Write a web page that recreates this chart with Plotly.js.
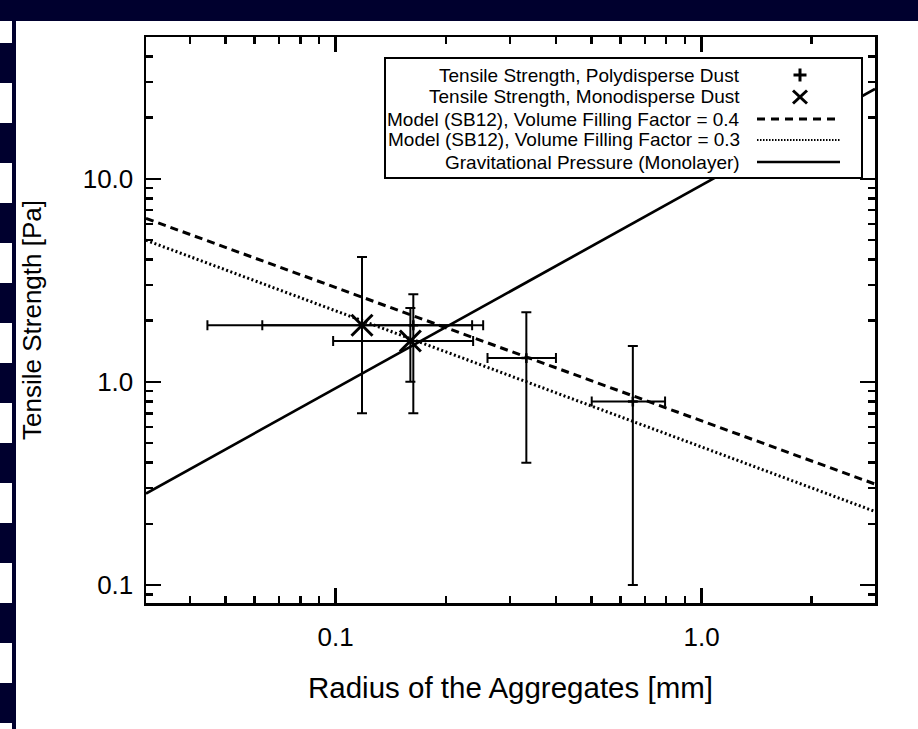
<!DOCTYPE html>
<html>
<head>
<meta charset="utf-8">
<script src="https://cdn.plot.ly/plotly-3.0.1.min.js"></script>
<style>
  html, body { margin: 0; padding: 0; background: #ffffff; }
  #wrap { position: relative; width: 918px; height: 729px; overflow: hidden; }
  #chart { position: absolute; left: 0; top: 0; width: 918px; height: 729px; }
  .navy { position: absolute; background: #00002e; }
</style>
</head>
<body>
<div id="wrap">
  <div id="chart"></div>
</div>
<script>
// ---------------- data ----------------
// Tensile strength, polydisperse dust (+)
const polyX       = [0.163, 0.332, 0.649];
const polyY       = [1.90, 1.31, 0.80];
const polyXplus   = [0.073, 0.068, 0.146];
const polyXminus  = [0.100, 0.072, 0.148];
const polyYplus   = [0.80, 0.89, 0.70];
const polyYminus  = [1.20, 0.91, 0.70];

// Tensile strength, monodisperse dust (x)
const monoX       = [0.118, 0.160];
const monoY       = [1.90, 1.59];
const monoXplus   = [0.135, 0.0775];
const monoXminus  = [0.0734, 0.0616];
const monoYplus   = [2.22, 0.72];
const monoYminus  = [1.20, 0.59];

// Model lines (end points read at the plot edges)
const modelX      = [0.0303, 2.98];
const model04Y    = [6.38, 0.314];
const model03Y    = [4.98, 0.230];
const gravY       = [0.282, 27.7];

// Axis ticks
const xTickVals   = [0.1, 1];
const xTickText   = ['0.1', '1.0'];
const xMinorVals  = [0.04, 0.05, 0.06, 0.07, 0.08, 0.09, 0.2, 0.3, 0.4, 0.5, 0.6, 0.7, 0.8, 0.9, 2];
const yTickVals   = [0.1, 1, 10];
const yTickText   = ['0.1', '1.0', '10.0'];
const yMinorVals  = [0.09, 0.2, 0.3, 0.4, 0.5, 0.6, 0.7, 0.8, 0.9, 2, 3, 4, 5, 6, 7, 8, 9, 20, 30, 40];

const legendLabels = [
  'Tensile Strength, Polydisperse Dust',
  'Tensile Strength, Monodisperse Dust',
  'Model (SB12), Volume Filling Factor = 0.4',
  'Model (SB12), Volume Filling Factor = 0.3',
  'Gravitational Pressure (Monolayer)'
];

// ---------------- decoration (navy frame of the slide) ----------------
(function () {
  const wrap = document.getElementById('wrap');
  function box(l, t, w, h) {
    const d = document.createElement('div');
    d.className = 'navy';
    d.style.left = l + 'px'; d.style.top = t + 'px';
    d.style.width = w + 'px'; d.style.height = h + 'px';
    wrap.appendChild(d);
  }
  box(0, 0, 918, 21);     // top band
  box(12, 0, 4, 729);     // left vertical rule
  for (let y = 43; y < 729; y += 80) box(0, y, 13, 40);
})();

// ---------------- plot ----------------
const FONT = 'Liberation Sans, Arial, Helvetica, sans-serif';
const L = 146, R = 875, T = 37, B = 603;
const px2x = p => (p - L) / (R - L);
const px2y = p => (B - p) / (B - T);

const errStyle = { color: '#000', thickness: 2, width: 5 };

const traces = [
  {
    x: modelX, y: model04Y, mode: 'lines', type: 'scatter', showlegend: false,
    line: { color: '#000', width: 3, dash: '8px,5px' }, hoverinfo: 'skip'
  },
  {
    x: modelX, y: model03Y, mode: 'lines', type: 'scatter', showlegend: false,
    line: { color: '#000', width: 3, dash: '2px,2.5px' }, hoverinfo: 'skip'
  },
  {
    x: modelX, y: gravY, mode: 'lines', type: 'scatter', showlegend: false,
    line: { color: '#000', width: 2.7 }, hoverinfo: 'skip'
  },
  {
    x: polyX, y: polyY, mode: 'markers', type: 'scatter', showlegend: false,
    marker: { symbol: 'cross-thin', size: 7, color: '#000', line: { color: '#000', width: 2.5 } },
    error_x: Object.assign({ type: 'data', symmetric: false, array: polyXplus, arrayminus: polyXminus }, errStyle),
    error_y: Object.assign({ type: 'data', symmetric: false, array: polyYplus, arrayminus: polyYminus }, errStyle)
  },
  {
    x: monoX, y: monoY, mode: 'markers', type: 'scatter', showlegend: false,
    marker: { symbol: 'x-thin', size: 21, color: '#000', line: { color: '#000', width: 3 } },
    error_x: Object.assign({ type: 'data', symmetric: false, array: monoXplus, arrayminus: monoXminus }, errStyle),
    error_y: Object.assign({ type: 'data', symmetric: false, array: monoYplus, arrayminus: monoYminus }, errStyle)
  }
];

// legend drawn by hand (text right aligned, symbol on the right)
const legBox = { l: 385, t: 58, r: 862, b: 178 };
const rowY = [75, 97, 119, 140, 162];
const textRight = 742;
const symL = 757, symR = 840, symC = 800;

const shapes = [
  { type: 'rect', xref: 'paper', yref: 'paper', layer: 'above',
    x0: px2x(legBox.l), x1: px2x(legBox.r), y0: px2y(legBox.b), y1: px2y(legBox.t),
    fillcolor: '#fff', line: { color: '#000', width: 2 } },
  // plus
  { type: 'line', xref: 'paper', yref: 'paper', layer: 'above',
    x0: px2x(symC - 6.5), x1: px2x(symC + 6.5), y0: px2y(rowY[0]), y1: px2y(rowY[0]), line: { color: '#000', width: 3 } },
  { type: 'line', xref: 'paper', yref: 'paper', layer: 'above',
    x0: px2x(symC), x1: px2x(symC), y0: px2y(rowY[0] - 6.5), y1: px2y(rowY[0] + 6.5), line: { color: '#000', width: 3 } },
  // cross
  { type: 'line', xref: 'paper', yref: 'paper', layer: 'above',
    x0: px2x(symC - 7), x1: px2x(symC + 7), y0: px2y(rowY[1] - 6.5), y1: px2y(rowY[1] + 6.5), line: { color: '#000', width: 3 } },
  { type: 'line', xref: 'paper', yref: 'paper', layer: 'above',
    x0: px2x(symC - 7), x1: px2x(symC + 7), y0: px2y(rowY[1] + 6.5), y1: px2y(rowY[1] - 6.5), line: { color: '#000', width: 3 } },
  // dashed
  { type: 'line', xref: 'paper', yref: 'paper', layer: 'above',
    x0: px2x(symL), x1: px2x(symR), y0: px2y(rowY[2]), y1: px2y(rowY[2]), line: { color: '#000', width: 3, dash: '8px,6px' } },
  // dotted
  { type: 'line', xref: 'paper', yref: 'paper', layer: 'above',
    x0: px2x(symL), x1: px2x(symR), y0: px2y(rowY[3]), y1: px2y(rowY[3]), line: { color: '#000', width: 2, dash: '1.5px,1.5px' } },
  // solid
  { type: 'line', xref: 'paper', yref: 'paper', layer: 'above',
    x0: px2x(symL), x1: px2x(symR), y0: px2y(rowY[4]), y1: px2y(rowY[4]), line: { color: '#000', width: 2.5 } }
];

const annotations = legendLabels.map((t, i) => ({
  text: t, xref: 'paper', yref: 'paper', x: px2x(textRight), y: px2y(rowY[i]),
  xanchor: 'right', yanchor: 'middle', showarrow: false,
  font: { family: FONT, size: 19, color: '#000' }
}));

const axisCommon = {
  type: 'log', showgrid: false, zeroline: false,
  showline: true, linecolor: '#000', linewidth: 2.5, mirror: 'ticks',
  ticks: 'inside', ticklen: 15, tickwidth: 2.5, tickcolor: '#000',
  tickmode: 'array',
  tickfont: { family: FONT, size: 26, color: '#000' }
};

const layout = {
  width: 918, height: 729,
  margin: { l: L, r: 918 - R, t: T, b: 729 - B, pad: 0 },
  paper_bgcolor: 'rgba(0,0,0,0)', plot_bgcolor: '#fff',
  showlegend: false,
  font: { family: FONT, color: '#000' },
  xaxis: Object.assign({}, axisCommon, {
    range: [Math.log10(0.0303), Math.log10(2.98)],
    tickvals: xTickVals, ticktext: xTickText,
    ticklabelstandoff: 9,
    minor: { tickmode: 'array', tickvals: xMinorVals, ticks: 'inside', ticklen: 7, tickwidth: 2.5, tickcolor: '#000', showgrid: false },
    title: { text: 'Radius of the Aggregates [mm]', font: { family: FONT, size: 29.5, color: '#000' }, standoff: 27 }
  }),
  yaxis: Object.assign({}, axisCommon, {
    range: [Math.log10(0.0815), Math.log10(49.9)],
    tickvals: yTickVals, ticktext: yTickText,
    ticklabelstandoff: 5,
    minor: { tickmode: 'array', tickvals: yMinorVals, ticks: 'inside', ticklen: 7, tickwidth: 2.5, tickcolor: '#000', showgrid: false },
    title: { text: 'Tensile Strength [Pa]', font: { family: FONT, size: 26, color: '#000' }, standoff: 34 }
  }),
  shapes: shapes,
  annotations: annotations
};

Plotly.newPlot('chart', traces, layout, { staticPlot: true, displayModeBar: false });
</script>
</body>
</html>
